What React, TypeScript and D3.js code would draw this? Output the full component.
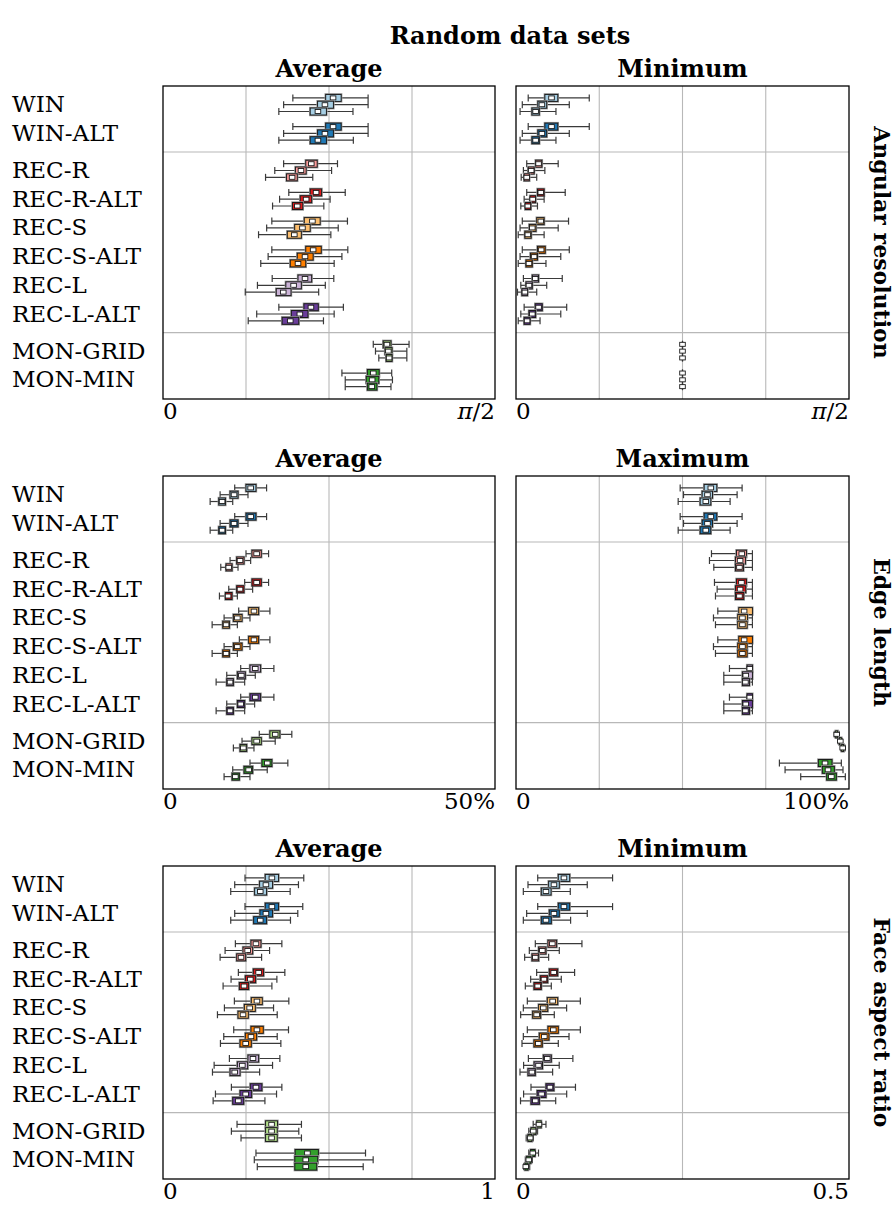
import React from "react";
import * as d3 from "d3";

type Stat = [number, number, number, number, number]; // min, q1, median, q3, max

const METHODS = ["WIN", "WIN-ALT", "REC-R", "REC-R-ALT", "REC-S", "REC-S-ALT", "REC-L", "REC-L-ALT", "MON-GRID", "MON-MIN"];
const METHOD_GROUP = [0, 0, 1, 1, 1, 1, 1, 1, 2, 2];
const METHOD_COLORS = ["#a6cee3", "#1f78b4", "#fb9a99", "#e31a1c", "#fdbf6f", "#ff7f00", "#cab2d6", "#6a3d9a", "#b2df8a", "#33a02c"];

// Angular resolution, average (degrees; axis 0 .. 90 = π/2)
const angularAvg: Stat[][] = [
  [[35.2, 44.1, 46.1, 48.3, 55.6], [32.7, 41.9, 43.9, 46.2, 55.6], [31.4, 39.9, 42.0, 44.3, 51.5]],
  [[35.2, 44.1, 46.1, 48.3, 55.6], [32.7, 41.9, 43.9, 46.2, 55.6], [31.4, 39.9, 42.0, 44.3, 51.6]],
  [[32.7, 38.7, 40.2, 41.8, 47.3], [30.3, 35.9, 37.4, 38.8, 45.7], [27.8, 33.5, 35.0, 36.4, 40.6]],
  [[34.1, 39.9, 41.5, 43.0, 49.4], [31.6, 37.2, 38.8, 40.3, 45.3], [29.7, 35.1, 36.4, 37.9, 43.6]],
  [[29.5, 38.3, 40.5, 42.6, 50.0], [28.1, 35.7, 37.8, 39.9, 47.5], [25.9, 33.7, 35.6, 37.5, 45.5]],
  [[29.5, 38.7, 40.7, 42.9, 50.1], [28.5, 36.4, 38.5, 40.7, 48.5], [26.5, 34.5, 36.6, 38.7, 46.4]],
  [[29.6, 36.6, 38.5, 40.3, 46.3], [25.6, 33.3, 35.4, 37.5, 44.0], [22.3, 30.7, 32.6, 34.7, 42.2]],
  [[31.4, 38.2, 40.1, 42.1, 48.9], [25.4, 34.8, 37.1, 39.3, 46.4], [23.1, 32.3, 34.5, 36.8, 43.5]],
  [[57.0, 59.7, 60.7, 61.8, 66.7], [57.6, 60.2, 61.1, 62.1, 66.1], [58.5, 60.5, 61.3, 62.1, 66.1]],
  [[48.5, 55.4, 57.0, 58.6, 62.0], [49.4, 55.1, 56.7, 58.5, 62.2], [49.4, 55.4, 56.6, 58.0, 61.8]],
];

// Angular resolution, minimum (degrees)
const angularMin: Stat[][] = [
  [[3.3, 7.8, 9.6, 11.3, 19.8], [1.7, 5.9, 7.0, 8.3, 14.4], [1.1, 4.3, 5.3, 6.3, 10.8]],
  [[3.3, 7.8, 9.6, 11.3, 19.8], [1.7, 5.9, 7.0, 8.3, 14.4], [1.1, 4.3, 5.3, 6.3, 10.8]],
  [[2.9, 5.3, 6.1, 7.0, 11.4], [2.0, 3.3, 4.1, 4.9, 7.8], [1.4, 2.2, 2.9, 3.6, 5.6]],
  [[2.9, 5.8, 6.7, 7.6, 13.3], [2.2, 3.8, 4.5, 5.3, 7.6], [1.3, 2.5, 3.2, 4.0, 5.8]],
  [[1.7, 5.6, 6.7, 7.6, 14.2], [1.1, 3.6, 4.4, 5.4, 11.4], [0.6, 2.4, 3.2, 4.1, 7.6]],
  [[1.7, 5.8, 6.8, 7.9, 14.4], [1.1, 3.9, 4.9, 5.8, 12.1], [0.6, 2.7, 3.5, 4.4, 8.1]],
  [[2.0, 4.4, 5.2, 6.1, 12.5], [1.3, 2.7, 3.5, 4.4, 8.3], [0.4, 1.6, 2.4, 3.1, 5.6]],
  [[2.2, 5.2, 6.1, 7.1, 13.7], [1.3, 3.5, 4.4, 5.3, 12.1], [0.6, 2.2, 3.0, 3.8, 6.5]],
  [[45, 45, 45, 45, 45], [45, 45, 45, 45, 45], [45, 45, 45, 45, 45]],
  [[45, 45, 45, 45, 45], [45, 45, 45, 45, 45], [45, 45, 45, 45, 45]],
];

// Edge length, average (%)
const edgeAvg: Stat[][] = [
  [[10.8, 12.5, 13.2, 14.0, 15.6], [8.6, 10.1, 10.7, 11.3, 12.8], [7.1, 8.4, 8.9, 9.4, 10.5]],
  [[10.8, 12.5, 13.2, 14.0, 15.6], [8.6, 10.1, 10.7, 11.3, 12.8], [7.1, 8.4, 8.9, 9.4, 10.5]],
  [[12.5, 13.4, 14.1, 14.8, 15.9], [10.1, 11.1, 11.6, 12.2, 13.2], [8.7, 9.5, 9.9, 10.4, 11.3]],
  [[12.3, 13.4, 14.1, 14.8, 15.9], [9.9, 11.1, 11.6, 12.2, 13.5], [8.5, 9.4, 9.8, 10.4, 11.2]],
  [[11.4, 12.9, 13.7, 14.4, 16.1], [9.2, 10.6, 11.2, 11.9, 13.1], [7.4, 9.0, 9.5, 10.0, 11.2]],
  [[11.5, 12.9, 13.7, 14.4, 16.1], [9.2, 10.6, 11.2, 11.9, 13.1], [7.4, 9.0, 9.5, 10.0, 11.2]],
  [[11.7, 13.1, 13.9, 14.7, 16.7], [9.6, 11.2, 11.8, 12.4, 13.9], [8.0, 9.6, 10.1, 10.6, 12.3]],
  [[11.7, 13.1, 13.9, 14.7, 16.7], [9.6, 11.2, 11.7, 12.3, 13.8], [8.0, 9.6, 10.1, 10.6, 12.3]],
  [[14.5, 16.1, 16.9, 17.6, 19.4], [11.9, 13.4, 14.1, 14.8, 16.9], [10.6, 11.6, 12.1, 12.6, 13.7]],
  [[13.1, 14.9, 15.7, 16.4, 18.8], [10.5, 12.2, 12.9, 13.5, 15.7], [9.2, 10.4, 10.9, 11.5, 13.1]],
];

// Edge length, maximum (%)
const edgeMax: Stat[][] = [
  [[49.3, 56.5, 58.5, 60.3, 67.9], [50.3, 55.9, 57.5, 59.0, 66.4], [48.7, 55.3, 57.0, 58.5, 64.3]],
  [[49.3, 56.5, 58.5, 60.3, 67.9], [50.3, 55.9, 57.5, 59.0, 66.4], [48.7, 55.3, 57.0, 58.5, 64.3]],
  [[58.7, 66.2, 67.8, 69.2, 71.0], [58.1, 65.9, 67.3, 68.9, 71.0], [59.4, 65.9, 67.1, 68.3, 71.0]],
  [[59.6, 66.2, 67.7, 69.2, 71.0], [60.4, 65.9, 67.3, 69.0, 71.0], [59.9, 65.9, 67.1, 68.4, 71.0]],
  [[60.6, 66.9, 68.5, 71.0, 71.0], [59.3, 66.6, 68.0, 69.5, 71.0], [59.9, 66.6, 68.0, 69.4, 71.0]],
  [[60.6, 66.9, 68.5, 71.0, 71.0], [59.3, 66.6, 68.0, 69.4, 71.0], [59.9, 66.6, 68.0, 69.4, 71.0]],
  [[64.1, 69.4, 70.2, 71.0, 71.0], [62.4, 68.0, 69.0, 71.0, 71.0], [62.4, 68.0, 68.9, 70.1, 71.0]],
  [[64.1, 69.4, 70.2, 71.0, 71.0], [62.4, 68.0, 69.0, 71.0, 71.0], [62.4, 68.0, 68.9, 70.1, 71.0]],
  [[95.6, 96.0, 96.3, 96.6, 97.0], [96.8, 97.1, 97.4, 97.7, 98.0], [97.5, 97.8, 98.1, 98.4, 98.8]],
  [[79.1, 90.8, 92.8, 94.9, 97.7], [80.8, 92.0, 93.7, 95.6, 98.2], [85.5, 93.3, 94.7, 96.2, 98.9]],
];

// Face aspect ratio, average
const faceAvg: Stat[][] = [
  [[0.247, 0.308, 0.328, 0.348, 0.424], [0.216, 0.291, 0.310, 0.330, 0.408], [0.204, 0.276, 0.293, 0.312, 0.383]],
  [[0.247, 0.308, 0.328, 0.348, 0.421], [0.216, 0.292, 0.310, 0.330, 0.406], [0.204, 0.273, 0.293, 0.312, 0.384]],
  [[0.218, 0.265, 0.280, 0.295, 0.358], [0.187, 0.241, 0.255, 0.270, 0.321], [0.172, 0.222, 0.235, 0.249, 0.297]],
  [[0.227, 0.272, 0.288, 0.303, 0.367], [0.205, 0.248, 0.263, 0.279, 0.343], [0.181, 0.230, 0.244, 0.258, 0.328]],
  [[0.215, 0.266, 0.283, 0.299, 0.379], [0.185, 0.245, 0.261, 0.278, 0.333], [0.164, 0.226, 0.241, 0.257, 0.344]],
  [[0.213, 0.265, 0.283, 0.302, 0.378], [0.183, 0.248, 0.265, 0.282, 0.344], [0.173, 0.232, 0.249, 0.266, 0.355]],
  [[0.200, 0.256, 0.271, 0.288, 0.352], [0.154, 0.224, 0.239, 0.255, 0.330], [0.149, 0.202, 0.216, 0.232, 0.291]],
  [[0.206, 0.263, 0.280, 0.298, 0.358], [0.158, 0.232, 0.249, 0.267, 0.342], [0.151, 0.210, 0.227, 0.243, 0.307]],
  [[0.223, 0.309, 0.327, 0.345, 0.417], [0.206, 0.309, 0.327, 0.344, 0.409], [0.235, 0.309, 0.327, 0.344, 0.417]],
  [[0.280, 0.398, 0.435, 0.468, 0.610], [0.275, 0.397, 0.430, 0.466, 0.633], [0.284, 0.397, 0.430, 0.463, 0.603]],
];

// Face aspect ratio, minimum
const faceMin: Stat[][] = [
  [[0.0326, 0.0635, 0.072, 0.0806, 0.145], [0.018, 0.049, 0.057, 0.065, 0.107], [0.011, 0.038, 0.045, 0.0526, 0.0815]],
  [[0.0326, 0.0635, 0.072, 0.0806, 0.145], [0.016, 0.050, 0.057, 0.065, 0.107], [0.011, 0.038, 0.045, 0.053, 0.082]],
  [[0.029, 0.048, 0.0545, 0.061, 0.099], [0.020, 0.034, 0.0395, 0.045, 0.065], [0.013, 0.024, 0.029, 0.034, 0.049]],
  [[0.031, 0.050, 0.0566, 0.0626, 0.088], [0.022, 0.0365, 0.042, 0.0476, 0.068], [0.014, 0.027, 0.0326, 0.038, 0.053]],
  [[0.017, 0.047, 0.055, 0.0626, 0.0966], [0.011, 0.034, 0.041, 0.0476, 0.076], [0.007, 0.025, 0.031, 0.037, 0.0575]],
  [[0.017, 0.048, 0.056, 0.0635, 0.0966], [0.011, 0.035, 0.0425, 0.0495, 0.0796], [0.009, 0.027, 0.0335, 0.0395, 0.0635]],
  [[0.0186, 0.0411, 0.047, 0.053, 0.0854], [0.0114, 0.0272, 0.0338, 0.0398, 0.0649], [0.006, 0.018, 0.0239, 0.029, 0.055]],
  [[0.0225, 0.045, 0.051, 0.0569, 0.0893], [0.0114, 0.0318, 0.0384, 0.045, 0.0761], [0.0068, 0.0225, 0.029, 0.0351, 0.0596]],
  [[0.0258, 0.0312, 0.0345, 0.0378, 0.045], [0.0192, 0.0225, 0.0258, 0.0299, 0.0324], [0.0153, 0.018, 0.0213, 0.0239, 0.0258]],
  [[0.0192, 0.0219, 0.0252, 0.0285, 0.0338], [0.014, 0.0159, 0.0192, 0.0225, 0.0246], [0.0114, 0.0134, 0.0147, 0.018, 0.0206]],
];

const FIGURE_TITLE = "Random data sets";
const ROW_TITLES = ["Angular resolution", "Edge length", "Face aspect ratio"];
const COL_TITLES = [["Average", "Minimum"], ["Average", "Maximum"], ["Average", "Minimum"]];
const PANEL_DATA = [[angularAvg, angularMin], [edgeAvg, edgeMax], [faceAvg, faceMin]];
const DOMAINS: [number, number][][] = [[[0, 90], [0, 90]], [[0, 50], [0, 100]], [[0, 1], [0, 0.5]]];
const GRID_TICKS = [[[22.5, 45, 67.5], [22.5, 45, 67.5]], [[25], [25, 50, 75]], [[0.25, 0.5, 0.75], [0.25]]];
const TICK_LABELS = [[["0", "π/2"], ["0", "π/2"]], [["0", "50%"], ["0", "100%"]], [["0", "1"], ["0", "0.5"]]];

const W = 895;
const H = 1207;
const PANEL_X: [number, number][] = [[163, 495], [516, 849]];
const ROW_TOP = [86, 476, 866];
const PANEL_H = 313;
const SERIF = "'DejaVu Serif', serif";

function TickLabel({ text, x, y, anchor }: { text: string; x: number; y: number; anchor: string }) {
  if (text.startsWith("π")) {
    return (
      <text x={x} y={y} textAnchor={anchor} fontFamily={SERIF} fontSize={23}>
        <tspan fontStyle="italic">π</tspan>
        <tspan>{text.slice(1)}</tspan>
      </text>
    );
  }
  return (
    <text x={x} y={y} textAnchor={anchor} fontFamily={SERIF} fontSize={23}>
      {text}
    </text>
  );
}

function Panel({ r, c }: { r: number; c: number }) {
  const [x0, x1] = PANEL_X[c];
  const top = ROW_TOP[r];
  const data = PANEL_DATA[r][c];
  const x = d3.scaleLinear().domain(DOMAINS[r][c]).range([x0, x1]);
  const yU = d3.scaleLinear().domain([0, PANEL_H / 28.7]).range([top, top + PANEL_H]);
  const rowPos = (i: number) => 0.652 + i + METHOD_GROUP[i] * 0.293;
  const sepPos = [rowPos(1) + 0.5 + 0.293 / 2, rowPos(7) + 0.5 + 0.293 / 2];
  const boxH = 7;
  const [lbl0, lbl1] = TICK_LABELS[r][c];
  return (
    <g>
      {GRID_TICKS[r][c].map((t, k) => (
        <line key={"g" + k} x1={x(t)} x2={x(t)} y1={top} y2={top + PANEL_H} stroke="#b8b8b8" strokeWidth={1.1} />
      ))}
      {sepPos.map((s, k) => (
        <line key={"s" + k} x1={x0} x2={x1} y1={yU(s)} y2={yU(s)} stroke="#b8b8b8" strokeWidth={1.1} />
      ))}
      {data.map((boxes, i) =>
        boxes.map((st, j) => {
          const cy = yU(rowPos(i) + (j - 1) * 0.237);
          const [mn, q1, md, q3, mx] = st;
          const bw = Math.max(0, x(q3) - x(q1));
          return (
            <g key={i + "-" + j}>
              <line x1={x(mn)} x2={x(mx)} y1={cy} y2={cy} stroke="#3a3a3a" strokeWidth={1.2} />
              <line x1={x(mn)} x2={x(mn)} y1={cy - boxH / 2} y2={cy + boxH / 2} stroke="#3a3a3a" strokeWidth={1.2} />
              <line x1={x(mx)} x2={x(mx)} y1={cy - boxH / 2} y2={cy + boxH / 2} stroke="#3a3a3a" strokeWidth={1.2} />
              <rect x={x(q1)} y={cy - boxH / 2} width={bw} height={boxH}
                fill="none" stroke="#9a9a9a" strokeWidth={2.4} />
              <rect x={x(q1)} y={cy - boxH / 2} width={bw} height={boxH}
                fill={METHOD_COLORS[i]} stroke="#1a1a1a" strokeWidth={1} />
              <rect x={x(md) - 2.8} y={cy - 2} width={5.6} height={4} fill="#ffffff" stroke="#1a1a1a" strokeWidth={0.9} />
            </g>
          );
        })
      )}
      <rect x={x0} y={top} width={x1 - x0} height={PANEL_H} fill="none" stroke="#000" strokeWidth={1.3} />
      <text x={(x0 + x1) / 2} y={top - 9} textAnchor="middle" fontFamily={SERIF} fontWeight="bold" fontSize={24}>
        {COL_TITLES[r][c]}
      </text>
      <TickLabel text={lbl0} x={x0} y={top + PANEL_H + 20} anchor="start" />
      <TickLabel text={lbl1} x={x1} y={top + PANEL_H + 20} anchor="end" />
    </g>
  );
}

export default function App() {
  return (
    <svg width={W} height={H} viewBox={`0 0 ${W} ${H}`} style={{ display: "block", position: "absolute", left: 0, top: 0, background: "#fff" }}>
      <rect x={0} y={0} width={W} height={H} fill="#fff" />
      <text x={510} y={44} textAnchor="middle" fontFamily={SERIF} fontWeight="bold" fontSize={24}>
        {FIGURE_TITLE}
      </text>
      {ROW_TOP.map((top, r) => {
        const yU = d3.scaleLinear().domain([0, PANEL_H / 28.7]).range([top, top + PANEL_H]);
        return (
          <g key={"row" + r}>
            {METHODS.map((m, i) => (
              <text key={m} x={12} y={yU(0.652 + i + METHOD_GROUP[i] * 0.293) + 7.5} fontFamily={SERIF} fontSize={23}>
                {m}
              </text>
            ))}
            <text transform={`translate(874, ${top + PANEL_H / 2}) rotate(90)`} textAnchor="middle"
              fontFamily={SERIF} fontWeight="bold" fontSize={22}>
              {ROW_TITLES[r]}
            </text>
            <Panel r={r} c={0} />
            <Panel r={r} c={1} />
          </g>
        );
      })}
    </svg>
  );
}
